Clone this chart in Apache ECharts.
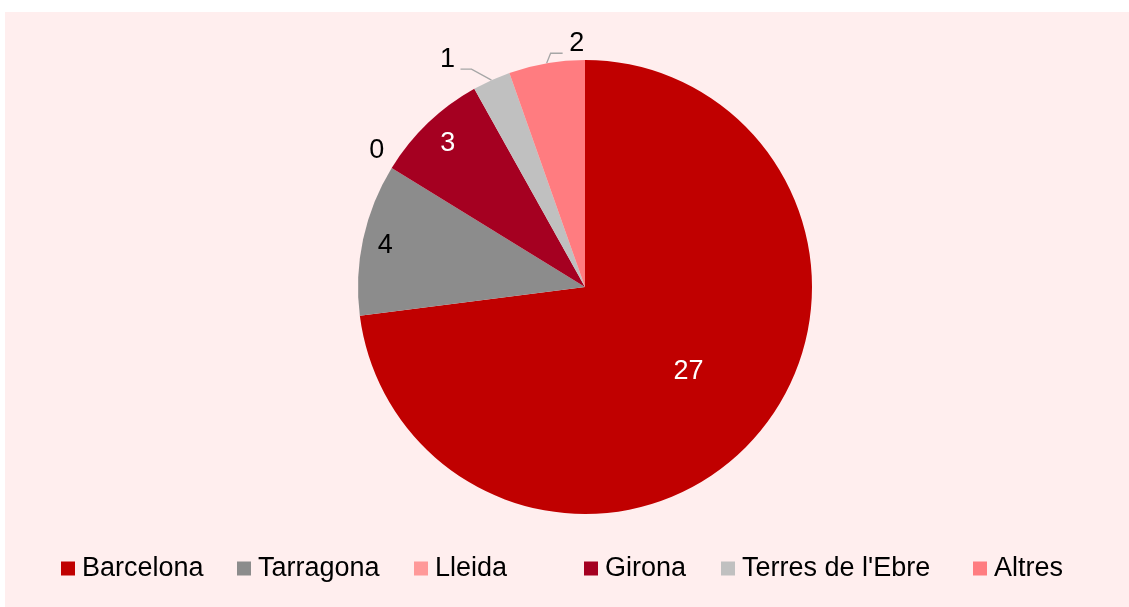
<!DOCTYPE html>
<html><head><meta charset="utf-8">
<script src="https://cdn.jsdelivr.net/npm/echarts@6/dist/echarts.min.js"></script>
<style>
html,body{margin:0;padding:0;background:#ffffff;}
#bg{position:absolute;left:5px;top:12px;width:1124px;height:595px;background:#FFEEEE;}
#chart{position:absolute;left:0;top:0;width:1129px;height:607px;}
</style></head><body>
<div id="bg"></div><div id="chart"></div>
<script>
// ---- data ----
const categories = ['Barcelona', 'Tarragona', 'Lleida', 'Girona', "Terres de l'Ebre", 'Altres'];
const values = [27, 4, 0, 3, 1, 2];

// ---- styles ----
const colors = ['#C00000', '#8C8C8C', '#FF9999', '#A50021', '#C0C0C0', '#FF7C80'];
const labelPlacement = [
  { mode: 'radial', f: 0.59, adj: [3, -4], color: '#ffffff' },
  { mode: 'radial', f: 0.90, adj: [0, 2], color: '#000000' },
  { mode: 'edge', text: [-15, -17], color: '#000000' },
  { mode: 'radial', f: 0.88, adj: [1, 1], color: '#ffffff' },
  { mode: 'leader', elbow: [-20, -11], end: [-31, -11], text: [-44, -21], color: '#000000' },
  { mode: 'leader', elbow: [4, -10], end: [16, -10], text: [30, -20], color: '#000000' }
];
const legendLeft = [61, 237, 414, 584, 721, 973];
const FONT = "'Liberation Sans', Arial, sans-serif";
const CX = 585, CY = 287, R = 227;

const total = values.reduce((a, b) => a + b, 0);
const midAngles = [];
let cum = 0;
values.forEach(v => { midAngles.push((cum + v / 2) / total * 2 * Math.PI); cum += v; });

const chart = echarts.init(document.getElementById('chart'), null, { renderer: 'canvas' });

const legends = categories.map((name, i) => ({
  data: [name],
  left: legendLeft[i],
  top: 555,
  padding: 0,
  icon: 'rect',
  itemWidth: 14,
  itemHeight: 14,
  selectedMode: false,
  textStyle: { fontSize: 27, color: '#000000', fontFamily: FONT, padding: [0, 0, 0, 2] }
}));

const option = {
  animation: false,
  backgroundColor: 'transparent',
  legend: legends,
  series: [{
    type: 'pie',
    center: [CX, CY],
    radius: R,
    startAngle: 90,
    clockwise: true,
    avoidLabelOverlap: false,
    emphasis: { disabled: true },
    itemStyle: { borderWidth: 0 },
    label: { fontSize: 27, fontFamily: FONT, formatter: '{c}' },
    labelLine: { lineStyle: { color: '#A6A6A6', width: 1.3 } },
    labelLayout: function (p) {
      const i = p.dataIndex;
      const a = midAngles[i];
      const s = labelPlacement[i];
      const dx = Math.sin(a), dy = -Math.cos(a);
      if (s.mode === 'radial') {
        return { x: CX + s.f * R * dx + s.adj[0], y: CY + s.f * R * dy + s.adj[1], align: 'center', verticalAlign: 'middle' };
      }
      const ex = CX + R * dx, ey = CY + R * dy;
      const out = { x: ex + s.text[0], y: ey + s.text[1], align: 'center', verticalAlign: 'middle' };
      if (s.mode === 'leader') {
        out.labelLinePoints = [[ex, ey], [ex + s.elbow[0], ey + s.elbow[1]], [ex + s.end[0], ey + s.end[1]]];
      }
      return out;
    },
    data: categories.map((name, i) => ({
      name: name,
      value: values[i],
      itemStyle: { color: colors[i] },
      label: { show: true, position: labelPlacement[i].mode === 'radial' ? 'inside' : 'outside', color: labelPlacement[i].color },
      labelLine: { show: labelPlacement[i].mode === 'leader' }
    }))
  }]
};
chart.setOption(option);
</script>
</body></html>
